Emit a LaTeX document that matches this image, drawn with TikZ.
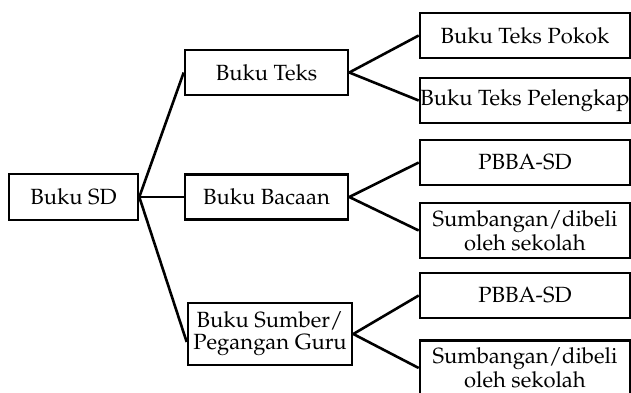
\documentclass[tikz,border=0pt]{standalone}
\usepackage[T1]{fontenc}
\usepackage{mathpazo}
\usetikzlibrary{positioning}

\begin{document}
\begin{tikzpicture}[x=0.5pt, y=-0.5pt, line width=1.3pt, font=\fontsize{11}{11}\selectfont]
    \tikzstyle{box}=[draw=black, fill=white, text=black, align=center, inner sep=0pt]
    \tikzstyle{midbox}=[box, minimum width=81.5pt, minimum height=22.5pt]
    \tikzstyle{leafbox}=[box, minimum width=105pt, minimum height=22.5pt]
    \useasboundingbox (0,0) rectangle (631,392);
    % root
    \node[box, minimum width=64.5pt, minimum height=23pt] (SD) at (73.5,197) {Buku SD};
    % middle column
    \node[midbox] (Teks)   at (266.5,72.5) {Buku Teks};
    \node[midbox] (Bacaan) at (266.5,197)  {Buku Bacaan};
    \node[midbox, minimum width=82pt, minimum height=31pt] (Sumber) at (270,334) {Buku Sumber/\\Pegangan Guru};
    % right column
    \node[leafbox] (Pokok)     at (525,35.5)  {Buku Teks Pokok};
    \node[leafbox] (Pelengkap) at (525,100.5) {Buku Teks Pelengkap};
    \node[leafbox] (PBBAa)     at (525,162.5) {PBBA-SD};
    \node[leafbox, minimum height=27.5pt] (Sumbangana) at (525,230.5) {Sumbangan/dibeli\\oleh sekolah};
    \node[leafbox] (PBBAb)     at (525,295.5) {PBBA-SD};
    \node[leafbox, minimum height=27.5pt] (Sumbanganb) at (525,368) {Sumbangan/dibeli\\oleh sekolah};
    \path
    (SD.east) edge (Teks.west)
    edge (Bacaan.west)
    edge ([yshift=-4pt]Sumber.west)
    (Teks.east) edge (Pokok.west)
    edge (Pelengkap.west)
    (Bacaan.east) edge (PBBAa.west)
    edge (Sumbangana.west)
    (Sumber.east) edge (PBBAb.west)
    edge (Sumbanganb.west);
\end{tikzpicture}
\end{document}
